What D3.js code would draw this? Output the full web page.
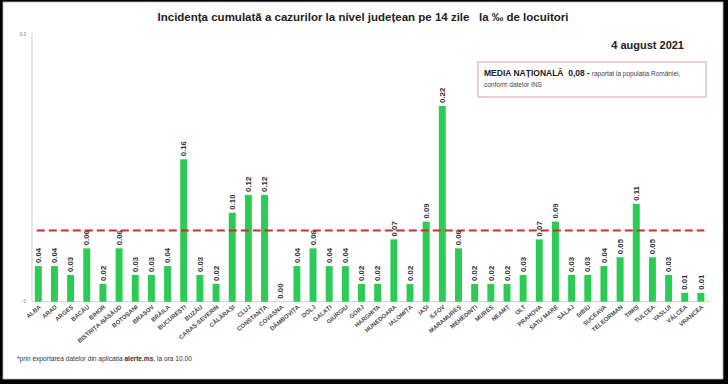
<!DOCTYPE html>
<html>
<head>
<meta charset="utf-8">
<script src="https://cdn.jsdelivr.net/npm/d3@7"></script>
<style>
  body { margin: 0; background: #000; }
  svg { display: block; }
  text { font-family: "Liberation Sans Narrow", "Liberation Sans", Arial, sans-serif; }
</style>
</head>
<body>
<div id="chart"></div>
<script>
// counties, in the order of the reference
const judete = [
  "ALBA", "ARAD", "ARGEȘ", "BACĂU", "BIHOR", "BISTRIȚA-NĂSĂUD", "BOTOȘANI",
  "BRAȘOV", "BRĂILA", "BUCUREȘTI", "BUZĂU", "CARAȘ-SEVERIN", "CĂLĂRAȘI",
  "CLUJ", "CONSTANȚA", "COVASNA", "DÂMBOVIȚA", "DOLJ", "GALAȚI", "GIURGIU",
  "GORJ", "HARGHITA", "HUNEDOARA", "IALOMIȚA", "IAȘI", "ILFOV", "MARAMUREȘ",
  "MEHEDINȚI", "MUREȘ", "NEAMȚ", "OLT", "PRAHOVA", "SATU MARE", "SĂLAJ",
  "SIBIU", "SUCEAVA", "TELEORMAN", "TIMIȘ", "TULCEA", "VASLUI", "VÂLCEA",
  "VRANCEA"
];
const incidenta = [
  0.04, 0.04, 0.03, 0.06, 0.02, 0.06, 0.03, 0.03, 0.04, 0.16, 0.03, 0.02,
  0.10, 0.12, 0.12, 0.00, 0.04, 0.06, 0.04, 0.04, 0.02, 0.02, 0.07, 0.02,
  0.09, 0.22, 0.06, 0.02, 0.02, 0.02, 0.03, 0.07, 0.09, 0.03, 0.03, 0.04,
  0.05, 0.11, 0.05, 0.03, 0.01, 0.01
];
const mediaNationala = 0.08;
const yTicks = [0, 0.3];

const W = 728, H = 384;
const svg = d3.select("#chart").append("svg").attr("width", W).attr("height", H);

// frame
svg.append("rect").attr("x", 0).attr("y", 0).attr("width", W).attr("height", H).attr("fill", "#000");
svg.append("rect").attr("x", 3).attr("y", 2).attr("width", 720).attr("height", 377)
  .attr("fill", "#fff").attr("stroke", "#bbb").attr("stroke-width", 0.8);

const x = d3.scaleBand().domain(judete).range([30.2, 709]).paddingInner(0.57).paddingOuter(0.285);
const y = d3.scaleLinear().domain([0, 0.3]).range([301.7, 34.7]);

// title
svg.append("text").attr("x", 363).attr("y", 21).attr("text-anchor", "middle")
  .style("white-space", "pre")
  .attr("font-size", 11.5).attr("font-weight", "bold").attr("fill", "#222")
  .text("Incidența cumulată a cazurilor la nivel județean pe 14 zile   la ‰ de locuitori");

svg.append("text").attr("x", 684).attr("y", 49).attr("text-anchor", "end")
  .attr("font-size", 11).attr("font-weight", "bold").attr("fill", "#222")
  .text("4 august 2021");

// axis
svg.append("line").attr("x1", 32).attr("x2", 32).attr("y1", y(0.3) - 2).attr("y2", y(0))
  .attr("stroke", "#d0d0d0").attr("stroke-width", 1);
svg.append("line").attr("x1", 32).attr("x2", 710).attr("y1", y(0)).attr("y2", y(0))
  .attr("stroke", "#d0d0d0").attr("stroke-width", 1);
svg.selectAll(".ytick").data(yTicks).enter().append("text")
  .attr("class", "ytick")
  .attr("x", 26).attr("y", d => y(d) + 1.5).attr("text-anchor", "end")
  .attr("font-size", 4.5).attr("fill", "#777")
  .text(d => d === 0 ? "0" : d.toFixed(1));

// bars
const rows = judete.map((j, i) => ({ j: j, v: incidenta[i] }));
svg.selectAll(".bar").data(rows).enter().append("rect")
  .attr("class", "bar")
  .attr("x", d => x(d.j)).attr("width", x.bandwidth())
  .attr("y", d => y(d.v)).attr("height", d => y(0) - y(d.v))
  .attr("fill", "#2ccb55");

// mean line
svg.append("line")
  .attr("x1", x(judete[0]) + 2).attr("x2", x(judete[judete.length - 1]) + x.bandwidth())
  .attr("y1", y(mediaNationala)).attr("y2", y(mediaNationala))
  .attr("stroke", "#d82a2a").attr("stroke-width", 2).attr("stroke-dasharray", "8,4");

// value labels
svg.selectAll(".val").data(rows).enter().append("text")
  .attr("class", "val")
  .attr("transform", d => `translate(${x(d.j) + x.bandwidth() / 2 + 2.7}, ${y(d.v) - 3}) rotate(-90)`)
  .attr("font-size", 7.8).attr("font-weight", "bold").attr("fill", "#333")
  .text(d => d.v.toFixed(2));

// category labels
svg.selectAll(".cat").data(judete).enter().append("text")
  .attr("class", "cat")
  .attr("transform", d => `translate(${x(d) + x.bandwidth() / 2 + 3}, ${y(0) + 6}) rotate(-40)`)
  .attr("text-anchor", "end")
  .attr("font-size", 6).attr("font-weight", "bold").attr("fill", "#444")
  .text(d => d);

// box with national average
svg.append("rect").attr("x", 478).attr("y", 62).attr("width", 228).attr("height", 35)
  .attr("fill", "#fff").attr("stroke", "#d9a3a3").attr("stroke-width", 1);
const t1 = svg.append("text").attr("x", 484).attr("y", 76).attr("fill", "#222").style("white-space", "pre");
t1.append("tspan").attr("font-size", 8.5).attr("font-weight", "bold").text("MEDIA NAȚIONALĂ  0,08 -");
t1.append("tspan").attr("font-size", 6.5).attr("fill", "#444").text(" raportat la populația României,");
svg.append("text").attr("x", 484).attr("y", 87).attr("font-size", 6.5).attr("fill", "#444")
  .text("conform datelor INS");

// footnote
const fn = svg.append("text").attr("x", 17).attr("y", 361).attr("font-size", 6.6).attr("fill", "#333");
fn.append("tspan").text("*prin exportarea datelor din aplicația ");
fn.append("tspan").attr("font-weight", "bold").text("alerte.ms");
fn.append("tspan").text(", la ora 10.00");
</script>
</body>
</html>
